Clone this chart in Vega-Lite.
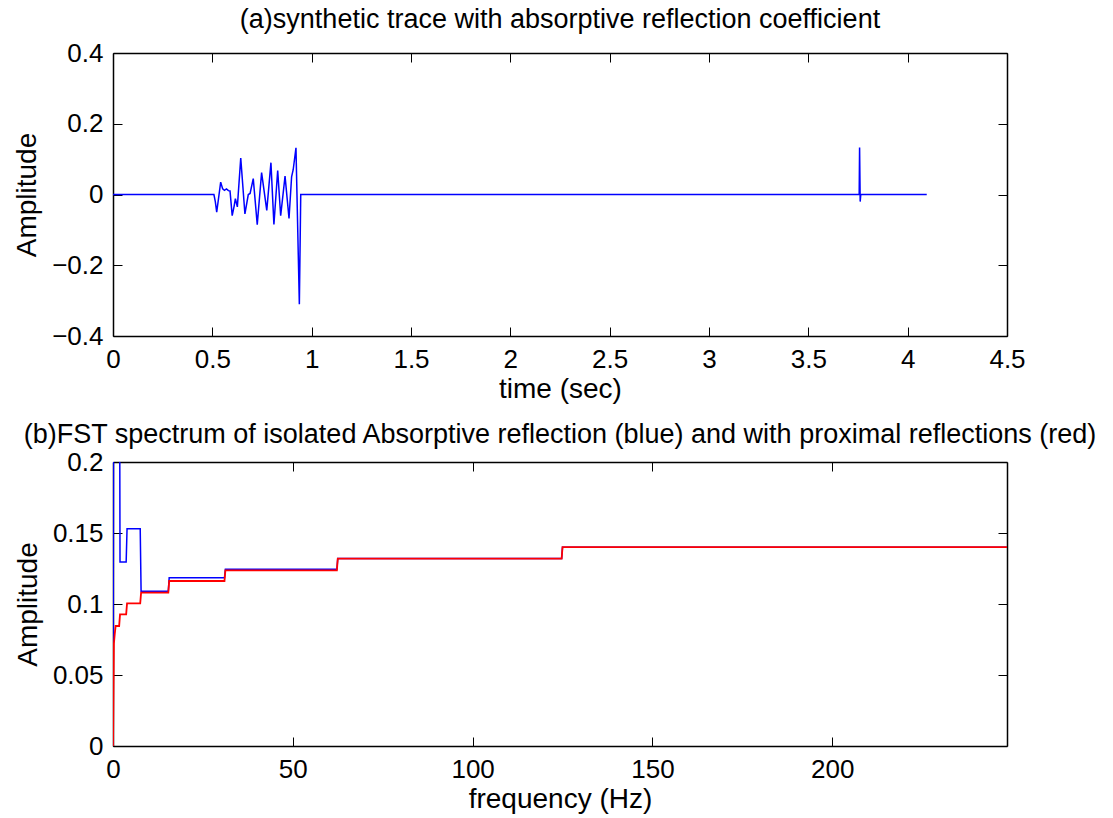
{
  "$schema": "https://vega.github.io/schema/vega-lite/v6.json",
  "background": "white",
  "padding": {"left": 13, "top": 6, "right": 5, "bottom": 4},
  "spacing": 18,
  "config": {
    "font": "Liberation Sans",
    "view": {"stroke": null},
    "axis": {
      "grid": false,
      "domainColor": "#000000",
      "domainWidth": 1.5,
      "tickColor": "#000000",
      "tickWidth": 1,
      "tickSize": -9,
      "labelPadding": 19,
      "labelFontSize": 26,
      "labelColor": "#000000",
      "labelFlush": false,
      "labelOverlap": false,
      "labelBound": false,
      "titleFontSize": 28,
      "titleFontWeight": "normal",
      "titleColor": "#000000",
      "titlePadding": 3
    },
    "title": {"fontSize": 27, "fontWeight": "normal", "color": "#000000", "anchor": "middle"}
  },
  "vconcat": [
    {
      "width": 894,
      "height": 283,
      "title": {"text": "(a)synthetic trace with absorptive reflection coefficient", "offset": 6},
      "layer": [
        {
          "data": {"values": [
            {"t": 0, "amp": 0},
            {"t": 0.508, "amp": 0},
            {"t": 0.515, "amp": -0.02},
            {"t": 0.522, "amp": -0.05},
            {"t": 0.531, "amp": -0.012},
            {"t": 0.542, "amp": 0.035},
            {"t": 0.552, "amp": 0.016},
            {"t": 0.561, "amp": 0.012},
            {"t": 0.571, "amp": 0.016},
            {"t": 0.581, "amp": 0.011},
            {"t": 0.589, "amp": 0.01},
            {"t": 0.6, "amp": -0.06},
            {"t": 0.61, "amp": -0.032},
            {"t": 0.616, "amp": -0.012},
            {"t": 0.626, "amp": -0.035},
            {"t": 0.643, "amp": 0.103},
            {"t": 0.664, "amp": -0.055},
            {"t": 0.681, "amp": 0.0},
            {"t": 0.69, "amp": 0.003},
            {"t": 0.706, "amp": 0.045},
            {"t": 0.726, "amp": -0.085},
            {"t": 0.748, "amp": 0.062},
            {"t": 0.774, "amp": -0.045},
            {"t": 0.795, "amp": 0.09},
            {"t": 0.81, "amp": -0.085},
            {"t": 0.829, "amp": 0.068},
            {"t": 0.844, "amp": -0.06},
            {"t": 0.866, "amp": 0.052},
            {"t": 0.886, "amp": -0.068},
            {"t": 0.899, "amp": 0.05},
            {"t": 0.907, "amp": 0.07},
            {"t": 0.921, "amp": 0.132},
            {"t": 0.938, "amp": -0.31},
            {"t": 0.945, "amp": 0},
            {"t": 3.756, "amp": 0},
            {"t": 3.758, "amp": 0.133},
            {"t": 3.761, "amp": -0.02},
            {"t": 3.764, "amp": 0},
            {"t": 4.096, "amp": 0}
          ]},
          "mark": {"type": "line", "color": "#0000ff", "strokeWidth": 1.5, "clip": true},
          "encoding": {
            "x": {"field": "t", "type": "quantitative", "sort": null,
                  "scale": {"domain": [0, 4.5], "nice": false, "zero": false},
                  "axis": {"orient": "bottom", "title": "time (sec)", "format": "~r",
                           "values": [0, 0.5, 1, 1.5, 2, 2.5, 3, 3.5, 4, 4.5]}},
            "y": {"field": "amp", "type": "quantitative",
                  "scale": {"domain": [-0.4, 0.4], "nice": false, "zero": false},
                  "axis": {"orient": "left", "title": "Amplitude", "format": "~r", "titlePadding": 10,
                           "values": [-0.4, -0.2, 0, 0.2, 0.4]}}
          }
        },
        {
          "data": {"values": [{"t": 0, "amp": 0}]},
          "mark": {"type": "point", "opacity": 0},
          "encoding": {
            "x": {"field": "t", "type": "quantitative",
                  "scale": {"domain": [0, 4.5], "nice": false, "zero": false},
                  "axis": {"orient": "top", "title": null, "labels": false,
                           "values": [0, 0.5, 1, 1.5, 2, 2.5, 3, 3.5, 4, 4.5]}},
            "y": {"field": "amp", "type": "quantitative",
                  "scale": {"domain": [-0.4, 0.4], "nice": false, "zero": false},
                  "axis": {"orient": "right", "title": null, "labels": false,
                           "values": [-0.4, -0.2, 0, 0.2, 0.4]}}
          }
        }
      ],
      "resolve": {"axis": {"x": "independent", "y": "independent"}}
    },
    {
      "width": 894,
      "height": 284,
      "title": {"text": "(b)FST spectrum of isolated Absorptive reflection (blue) and with proximal reflections (red)", "offset": 0},
      "data": {"values": [
        {"s": "blue", "f": 0, "amp": 0},
        {"s": "blue", "f": 0.244, "amp": 0.4},
        {"s": "blue", "f": 1.709, "amp": 0.4},
        {"s": "blue", "f": 1.953, "amp": 0.1296},
        {"s": "blue", "f": 3.662, "amp": 0.1296},
        {"s": "blue", "f": 3.906, "amp": 0.153},
        {"s": "blue", "f": 7.568, "amp": 0.153},
        {"s": "blue", "f": 7.812, "amp": 0.109},
        {"s": "blue", "f": 15.38, "amp": 0.109},
        {"s": "blue", "f": 15.625, "amp": 0.1185},
        {"s": "blue", "f": 31.0, "amp": 0.1185},
        {"s": "blue", "f": 31.25, "amp": 0.1244},
        {"s": "blue", "f": 62.26, "amp": 0.1244},
        {"s": "blue", "f": 62.5, "amp": 0.132},
        {"s": "blue", "f": 124.76, "amp": 0.132},
        {"s": "blue", "f": 125, "amp": 0.14},
        {"s": "blue", "f": 248.6, "amp": 0.14},
        {"s": "red", "f": 0, "amp": 0},
        {"s": "red", "f": 0.244, "amp": 0.072},
        {"s": "red", "f": 0.488, "amp": 0.079},
        {"s": "red", "f": 0.732, "amp": 0.0845},
        {"s": "red", "f": 1.709, "amp": 0.0845},
        {"s": "red", "f": 1.953, "amp": 0.0927},
        {"s": "red", "f": 3.662, "amp": 0.0927},
        {"s": "red", "f": 3.906, "amp": 0.1005},
        {"s": "red", "f": 7.568, "amp": 0.1005},
        {"s": "red", "f": 7.812, "amp": 0.108},
        {"s": "red", "f": 15.38, "amp": 0.108},
        {"s": "red", "f": 15.625, "amp": 0.1162},
        {"s": "red", "f": 31.0, "amp": 0.1162},
        {"s": "red", "f": 31.25, "amp": 0.1237},
        {"s": "red", "f": 62.26, "amp": 0.1237},
        {"s": "red", "f": 62.5, "amp": 0.132},
        {"s": "red", "f": 124.76, "amp": 0.132},
        {"s": "red", "f": 125, "amp": 0.14},
        {"s": "red", "f": 248.6, "amp": 0.14}
      ]},
      "layer": [
        {
          "transform": [{"filter": "datum.s == 'blue'"}],
          "mark": {"type": "line", "color": "#0000ff", "strokeWidth": 1.5, "clip": true},
          "encoding": {
            "x": {"field": "f", "type": "quantitative",
                  "scale": {"domain": [0, 248.6], "nice": false, "zero": false},
                  "axis": {"orient": "bottom", "title": "frequency (Hz)", "format": "~r",
                           "values": [0, 50, 100, 150, 200]}},
            "y": {"field": "amp", "type": "quantitative",
                  "scale": {"domain": [0, 0.2], "nice": false, "zero": false},
                  "axis": {"orient": "left", "title": "Amplitude", "format": "~r", "titlePadding": 10,
                           "values": [0, 0.05, 0.1, 0.15, 0.2]}}
          }
        },
        {
          "transform": [{"filter": "datum.s == 'red'"}],
          "mark": {"type": "line", "color": "#ff0000", "strokeWidth": 1.8, "clip": true},
          "encoding": {
            "x": {"field": "f", "type": "quantitative",
                  "scale": {"domain": [0, 248.6], "nice": false, "zero": false},
                  "axis": {"orient": "top", "title": null, "labels": false,
                           "values": [0, 50, 100, 150, 200]}},
            "y": {"field": "amp", "type": "quantitative",
                  "scale": {"domain": [0, 0.2], "nice": false, "zero": false},
                  "axis": {"orient": "right", "title": null, "labels": false,
                           "values": [0, 0.05, 0.1, 0.15, 0.2]}}
          }
        }
      ],
      "resolve": {"axis": {"x": "independent", "y": "independent"}}
    }
  ]
}
